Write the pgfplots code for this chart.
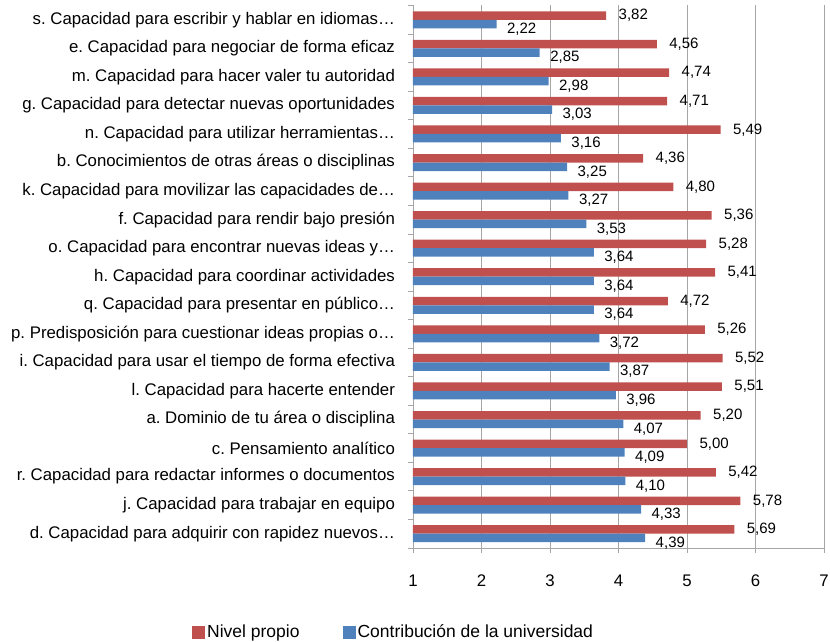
\documentclass[border=0pt]{standalone}
\usepackage{fontspec}
\setmainfont{Liberation Sans}
\usepackage{pgfplots}
\pgfplotsset{compat=1.18}
\definecolor{cred}{HTML}{C0504D}
\definecolor{cblue}{HTML}{4F81BD}
\definecolor{cgrid}{HTML}{A6A6A6}
\frenchspacing

\pgfplotstableread{
y  propio  univ
18 3.82 2.22
17 4.56 2.85
16 4.74 2.98
15 4.71 3.03
14 5.49 3.16
13 4.36 3.25
12 4.80 3.27
11 5.36 3.53
10 5.28 3.64
9  5.41 3.64
8  4.72 3.64
7  5.26 3.72
6  5.52 3.87
5  5.51 3.96
4  5.20 4.07
3  5.00 4.09
2  5.42 4.10
1  5.78 4.33
0  5.69 4.39
}\datatable

\begin{document}
\begin{tikzpicture}
\path[use as bounding box] (-413pt,-94pt) rectangle (417pt,548pt);
\begin{axis}[
  at={(0,0)}, anchor=south west,
  scale only axis, width=411pt, height=542.5pt,
  xbar, bar width=8.5pt,
  xmin=1, xmax=7, ymin=-0.5, ymax=18.5,
  axis lines*=left,
  axis line style={cgrid, line width=0.8pt},
  xtick={1,...,7},
  xticklabels={1,2,3,4,5,6,7},
  xmajorgrids,
  grid style={cgrid, line width=0.8pt},
  tick align=outside,
  major tick length=5pt,
  minor tick length=5pt,
  tick style={cgrid, line width=0.8pt},
  major y tick style={draw=none},
  minor ytick={-0.5,0.5,...,18.5},
  ytick={0,...,18},
  yticklabels={
    d. Capacidad para adquirir con rapidez nuevos…,
    j. Capacidad para trabajar en equipo,
    r. Capacidad para redactar informes o documentos,
    c. Pensamiento analítico,
    a. Dominio de tu área o disciplina,
    l. Capacidad para hacerte entender,
    i. Capacidad para usar el tiempo de forma efectiva,
    p. Predisposición para cuestionar ideas propias o…,
    q. Capacidad para presentar en público…,
    h. Capacidad para coordinar actividades,
    o. Capacidad para encontrar nuevas ideas y…,
    f. Capacidad para rendir bajo presión,
    k. Capacidad para movilizar las capacidades de…,
    b. Conocimientos de otras áreas o disciplinas,
    n. Capacidad para utilizar herramientas…,
    g. Capacidad para detectar nuevas oportunidades,
    m. Capacidad para hacer valer tu autoridad,
    e. Capacidad para negociar de forma eficaz,
    s. Capacidad para escribir y hablar en idiomas…},
  yticklabel style={font=\fontsize{16.8}{19}\selectfont, xshift=-9.5pt},
  xticklabel style={font=\fontsize{16.8}{19}\selectfont, yshift=-18pt},
  legend image code/.code={\fill[#1] (0pt,-6.5pt) rectangle (13pt,6.5pt);},
  legend style={draw=none, fill=none, legend columns=2,
    at={(-0.545,-0.155)}, anchor=west,
    font=\fontsize{17.5}{20}\selectfont,
    /tikz/every even column/.append style={column sep=41pt}},
  point meta=x,
  nodes near coords={\pgfmathprintnumber[use comma,fixed,fixed zerofill,precision=2,assume math mode=true]{\pgfplotspointmeta}},
]
\addplot[fill=cred, draw=none, bar shift=4.25pt,
  nodes near coords style={anchor=west, xshift=9pt, text=black, font=\fontsize{15}{18}\selectfont}]
  table[x=propio, y=y] {\datatable};
\addlegendentry{Nivel propio}
\addplot[fill=cblue, draw=none, bar shift=-4.25pt,
  nodes near coords style={anchor=west, xshift=7pt, yshift=-5pt, text=black, font=\fontsize{15}{18}\selectfont}]
  table[x=univ, y=y] {\datatable};
\addlegendentry{Contribución de la universidad}
\end{axis}
\end{tikzpicture}
\end{document}
